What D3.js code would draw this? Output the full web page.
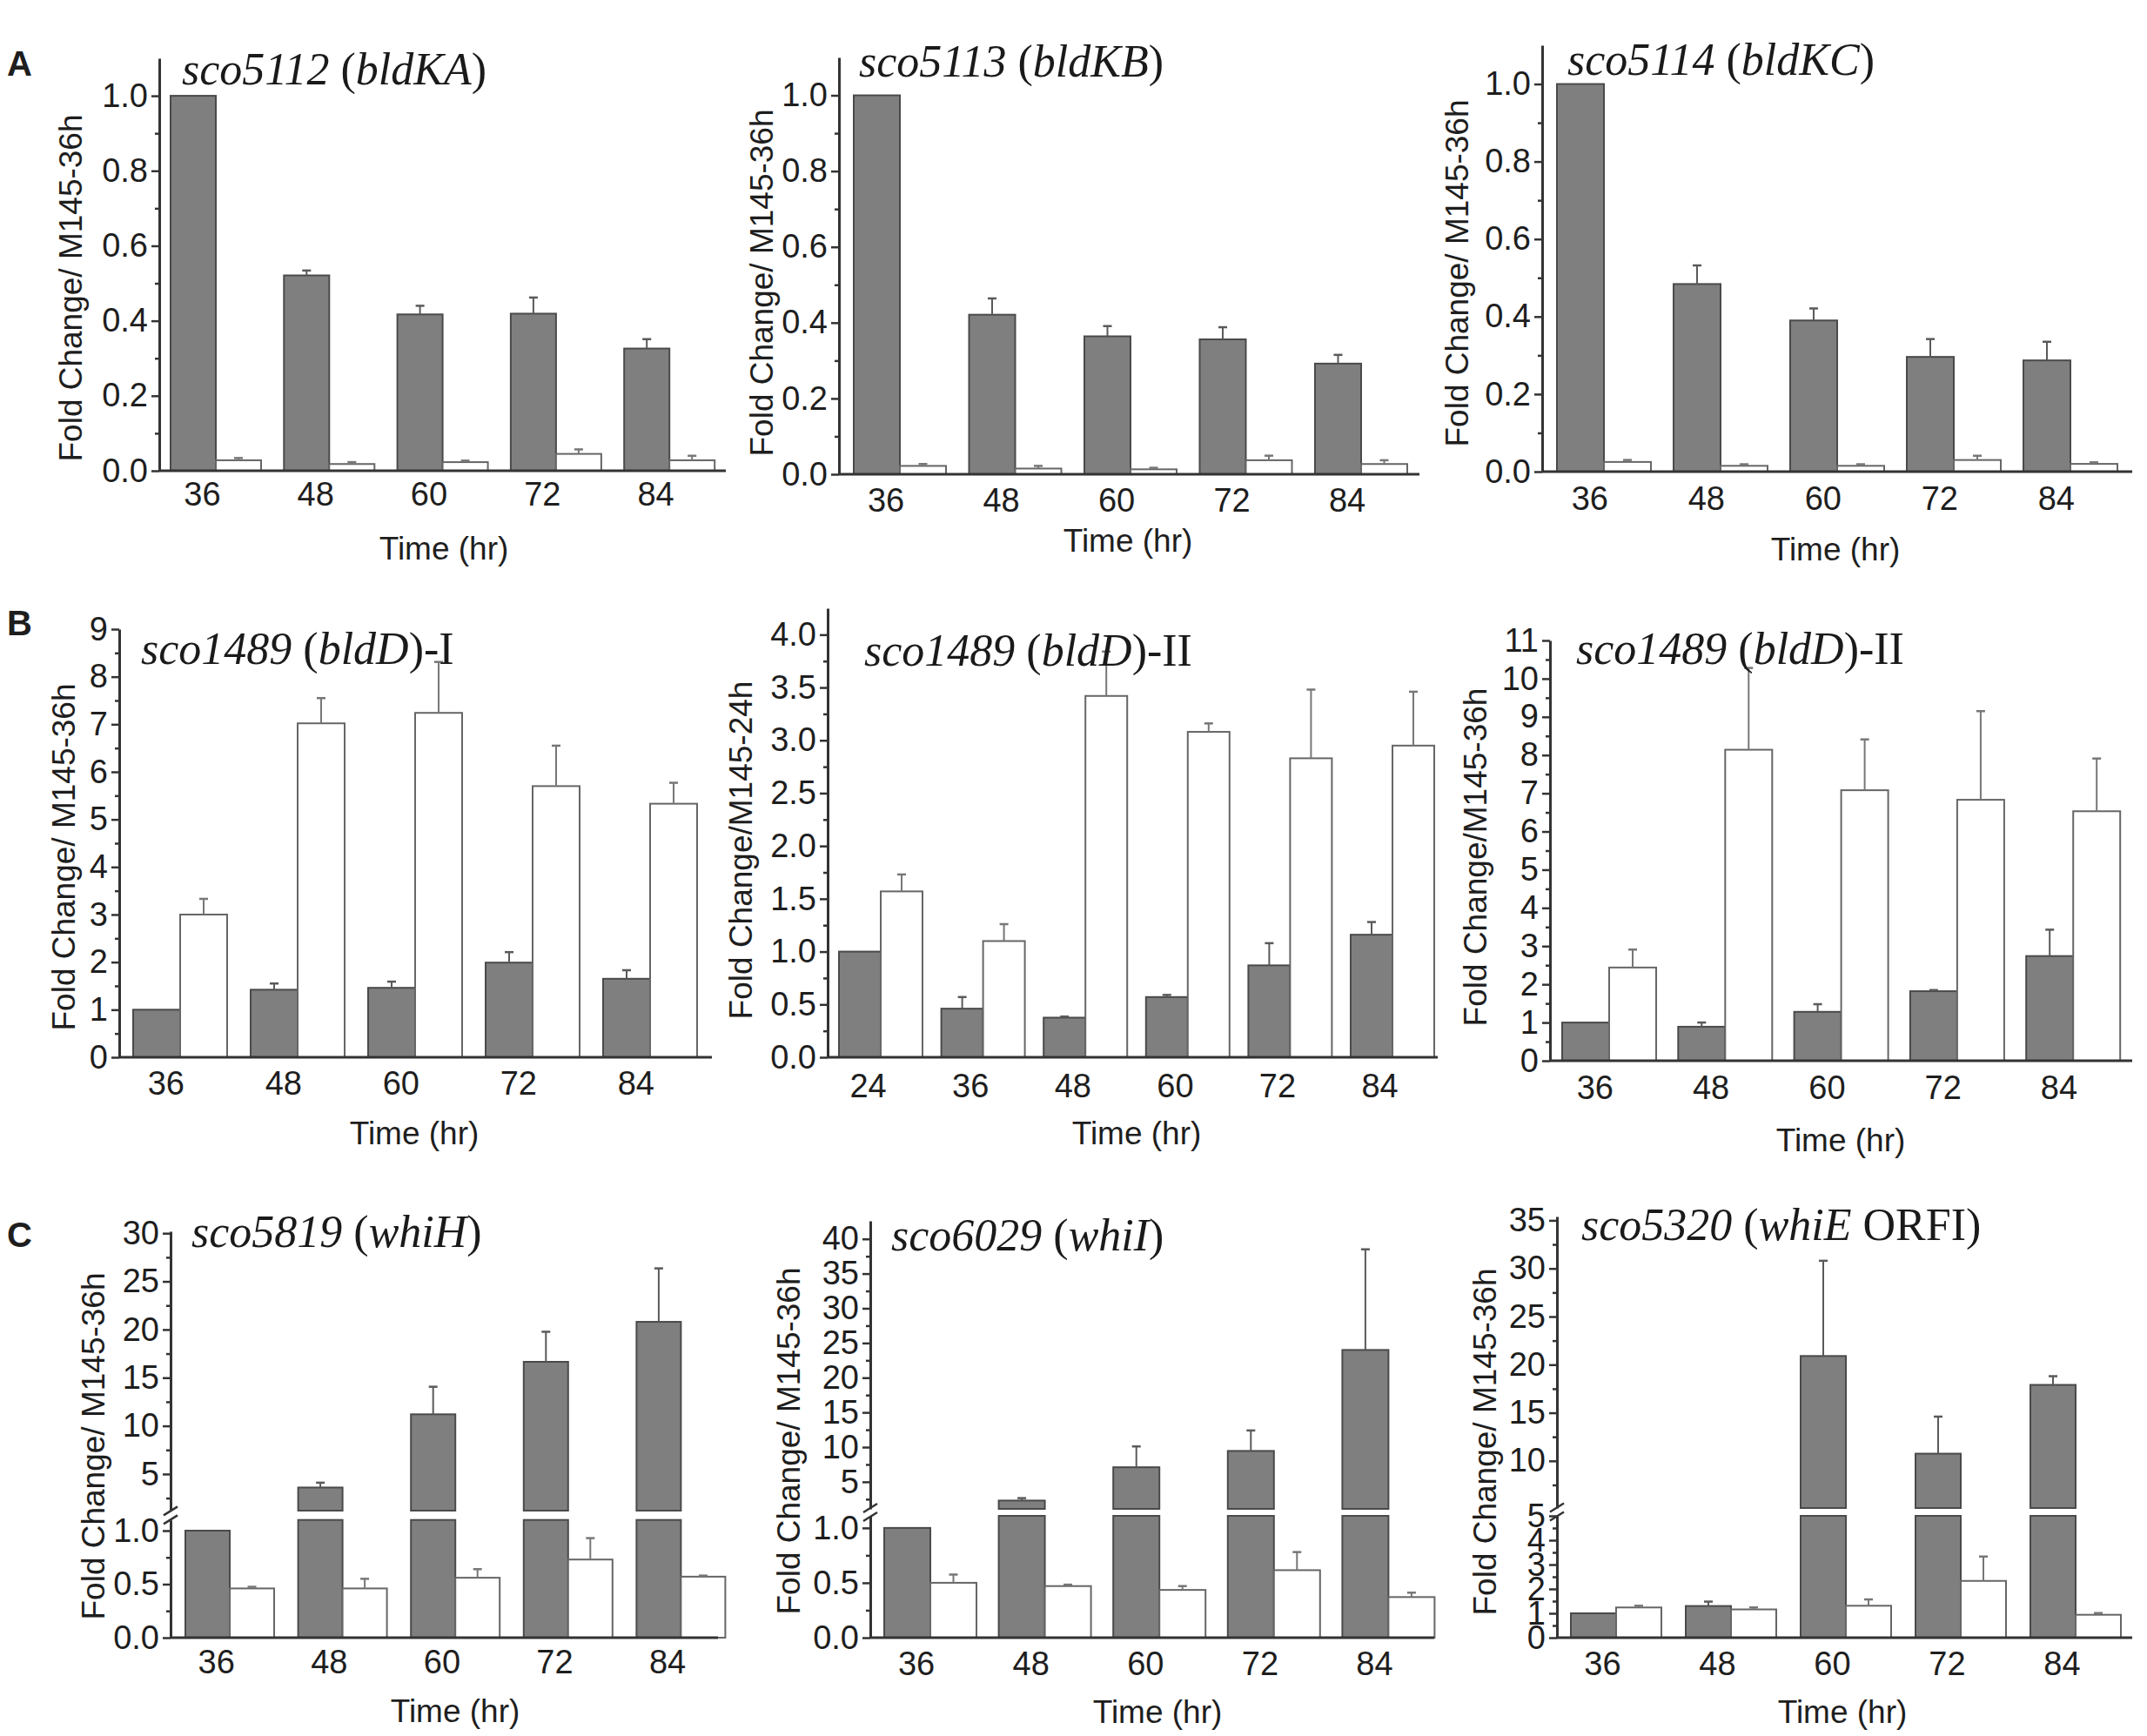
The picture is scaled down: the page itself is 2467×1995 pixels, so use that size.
<!DOCTYPE html>
<html>
<head>
<meta charset="utf-8">
<script src="https://d3js.org/d3.v7.min.js"></script>
<style>
  body { margin: 0; background: #fff; }
  text { font-family: "Liberation Sans", Arial, sans-serif; fill: #1e1e1e; }
  .title { font-family: "Liberation Serif", "Times New Roman", serif; fill: #1a1a1a; }
</style>
</head>
<body>
<script>
// categories (hours)
var times = [36, 48, 60, 72, 84];
var times24 = [24, 36, 48, 60, 72, 84];

// A  sco5112 (bldKA)
var sco5112Grey = [1.0, 0.521, 0.417, 0.419, 0.326];
var sco5112GreyErr = [0, 0.013, 0.023, 0.043, 0.025];
var sco5112White = [0.028, 0.018, 0.023, 0.045, 0.028];
var sco5112WhiteErr = [0.006, 0.005, 0.004, 0.012, 0.012];
// A  sco5113 (bldKB)
var sco5113Grey = [1.0, 0.421, 0.364, 0.356, 0.292];
var sco5113GreyErr = [0, 0.043, 0.027, 0.032, 0.023];
var sco5113White = [0.022, 0.015, 0.013, 0.037, 0.027];
var sco5113WhiteErr = [0.005, 0.007, 0.004, 0.012, 0.01];
// A  sco5114 (bldKC)
var sco5114Grey = [1.0, 0.484, 0.39, 0.296, 0.287];
var sco5114GreyErr = [0, 0.048, 0.031, 0.046, 0.048];
var sco5114White = [0.025, 0.015, 0.015, 0.03, 0.02];
var sco5114WhiteErr = [0.005, 0.004, 0.004, 0.011, 0.004];

// B  sco1489 (bldD)-I
var bldD1Grey = [1.0, 1.42, 1.46, 1.99, 1.65];
var bldD1GreyErr = [0, 0.13, 0.13, 0.22, 0.18];
var bldD1White = [3.0, 7.02, 7.24, 5.7, 5.33];
var bldD1WhiteErr = [0.33, 0.53, 1.07, 0.85, 0.44];
// B  sco1489 (bldD)-II, 24h reference
var bldD2Grey = [1.0, 0.46, 0.375, 0.57, 0.87, 1.16];
var bldD2GreyErr = [0, 0.11, 0.01, 0.02, 0.21, 0.12];
var bldD2White = [1.57, 1.1, 3.42, 3.08, 2.83, 2.95];
var bldD2WhiteErr = [0.16, 0.16, 0.42, 0.08, 0.65, 0.51];
// B  sco1489 (bldD)-II, 36h reference
var bldD3Grey = [1.0, 0.89, 1.28, 1.82, 2.74];
var bldD3GreyErr = [0, 0.11, 0.2, 0.03, 0.69];
var bldD3White = [2.44, 8.14, 7.08, 6.83, 6.53];
var bldD3WhiteErr = [0.47, 2.14, 1.33, 2.32, 1.38];

// C  sco5819 (whiH)
var whiHGrey = [1.0, 3.6, 11.2, 16.65, 20.8];
var whiHGreyErr = [0, 0.5, 2.86, 3.12, 5.55];
var whiHWhite = [0.46, 0.46, 0.56, 0.73, 0.57];
var whiHWhiteErr = [0.015, 0.09, 0.08, 0.2, 0.01];
// C  sco6029 (whiI)
var whiIGrey = [1.0, 2.3, 7.1, 9.45, 24.0];
var whiIGreyErr = [0, 0.35, 3.0, 2.95, 14.5];
var whiIWhite = [0.5, 0.47, 0.435, 0.615, 0.37];
var whiIWhiteErr = [0.075, 0.013, 0.035, 0.165, 0.04];
// C  sco5320 (whiE ORFI)
var whiEGrey = [1.0, 1.3, 20.9, 10.75, 17.9];
var whiEGreyErr = [0, 0.18, 9.9, 3.85, 0.9];
var whiEWhite = [1.24, 1.16, 1.31, 2.33, 0.94];
var whiEWhiteErr = [0.07, 0.08, 0.26, 1.0, 0.07];

// y tick values
var ticksA = [0, 0.2, 0.4, 0.6, 0.8, 1.0];
var minorA = [0.1, 0.3, 0.5, 0.7, 0.9];
var ticksB1 = [0, 1, 2, 3, 4, 5, 6, 7, 8, 9];
var ticksB2 = [0, 0.5, 1.0, 1.5, 2.0, 2.5, 3.0, 3.5, 4.0];
var ticksB3 = [0, 1, 2, 3, 4, 5, 6, 7, 8, 9, 10, 11];
var ticksLow = [0, 0.5, 1.0];
var ticksC1Up = [5, 10, 15, 20, 25, 30];
var ticksC2Up = [5, 10, 15, 20, 25, 30, 35, 40];
var ticksC3Low = [0, 1, 2, 3, 4, 5];
var ticksC3Up = [10, 15, 20, 25, 30, 35];

var panels = [
  {gene: 'sco5112', paren: ['bldKA', ''], tail: '', ylab: 'Fold Change/ M145-36h', cats: times,
   grey: sco5112Grey, greyErr: sco5112GreyErr, white: sco5112White, whiteErr: sco5112WhiteErr,
   ticks: ticksA, minor: minorA, fmt: '.1f', top: 1.1,
   L: {ax: 183, y0: 541, yTop: 67, start: 196, period: 130.3, w: 52, end: 834, tx: 209, ty: 79, lx: 81, ly: 331, ky: 568, hx: 510, hy: 630}},
  {gene: 'sco5113', paren: ['bldKB', ''], tail: '', ylab: 'Fold Change/ M145-36h', cats: times,
   grey: sco5113Grey, greyErr: sco5113GreyErr, white: sco5113White, whiteErr: sco5113WhiteErr,
   ticks: ticksA, minor: minorA, fmt: '.1f', top: 1.1,
   L: {ax: 964, y0: 545, yTop: 66, start: 981, period: 132.5, w: 53, end: 1631, tx: 987, ty: 70, lx: 875, ly: 325, ky: 575, hx: 1296, hy: 621}},
  {gene: 'sco5114', paren: ['bldKC', ''], tail: '', ylab: 'Fold Change/ M145-36h', cats: times,
   grey: sco5114Grey, greyErr: sco5114GreyErr, white: sco5114White, whiteErr: sco5114WhiteErr,
   ticks: ticksA, minor: minorA, fmt: '.1f', top: 1.1,
   L: {ax: 1772, y0: 542, yTop: 52, start: 1789, period: 134, w: 54, end: 2450, tx: 1801, ty: 68, lx: 1674, ly: 314, ky: 573, hx: 2109, hy: 631}},
  {gene: 'sco1489', paren: ['bldD', ''], tail: '-I', ylab: 'Fold Change/ M145-36h', cats: times,
   grey: bldD1Grey, greyErr: bldD1GreyErr, white: bldD1White, whiteErr: bldD1WhiteErr,
   ticks: ticksB1, minor: d3.range(0.5, 9, 1), fmt: 'd', top: 9,
   L: {ax: 137, y0: 1215, yTop: 723, start: 153, period: 135, w: 54, end: 818, tx: 162, ty: 745, lx: 73, ly: 985, ky: 1245, hx: 476, hy: 1302}},
  {gene: 'sco1489', paren: ['bldD', ''], tail: '-II', ylab: 'Fold Change/M145-24h', cats: times24,
   grey: bldD2Grey, greyErr: bldD2GreyErr, white: bldD2White, whiteErr: bldD2WhiteErr,
   ticks: ticksB2, minor: d3.range(0.25, 4.25, 0.5), fmt: '.1f', top: 4.25,
   L: {ax: 951, y0: 1215, yTop: 699, start: 964, period: 117.6, w: 48, end: 1652, tx: 993, ty: 747, lx: 851, ly: 977, ky: 1248, hx: 1306, hy: 1302}},
  {gene: 'sco1489', paren: ['bldD', ''], tail: '-II', ylab: 'Fold Change/M145-36h', cats: times,
   grey: bldD3Grey, greyErr: bldD3GreyErr, white: bldD3White, whiteErr: bldD3WhiteErr,
   ticks: ticksB3, minor: d3.range(0.5, 11, 1), fmt: 'd', top: 11,
   L: {ax: 1781, y0: 1219, yTop: 736, start: 1795, period: 133.3, w: 54, end: 2450, tx: 1811, ty: 745, lx: 1695, ly: 985, ky: 1250, hx: 2115, hy: 1310}},
  {gene: 'sco5819', paren: ['whiH', ''], tail: '', ylab: 'Fold Change/ M145-36h', cats: times,
   grey: whiHGrey, greyErr: whiHGreyErr, white: whiHWhite, whiteErr: whiHWhiteErr,
   brk: {low: [0, 1.1], up: [1.2, 30.2], lowTicks: ticksLow, lowMinor: [0.25, 0.75], lowFmt: '.1f',
         upTicks: ticksC1Up, upMinor: d3.range(2.5, 30, 5)},
   L: {ax: 196, y0: 1882, yLow: 1746.7, yUp0: 1736, yTop: 1415, start: 213, period: 129.6, w: 51, end: 825, tx: 220, ty: 1415, lx: 107, ly: 1662, ky: 1910, hx: 523, hy: 1966}},
  {gene: 'sco6029', paren: ['whiI', ''], tail: '', ylab: 'Fold Change/ M145-36h', cats: times,
   grey: whiIGrey, greyErr: whiIGreyErr, white: whiIWhite, whiteErr: whiIWhiteErr,
   brk: {low: [0, 1.11], up: [1.1, 42.6], lowTicks: ticksLow, lowMinor: [0.25, 0.75], lowFmt: '.1f',
         upTicks: ticksC2Up, upMinor: d3.range(2.5, 42.5, 5)},
   L: {ax: 1000, y0: 1882, yLow: 1742, yUp0: 1734, yTop: 1403, start: 1016, period: 131.6, w: 53, end: 1648, tx: 1024, ty: 1419, lx: 906, ly: 1656, ky: 1912, hx: 1330, hy: 1967}},
  {gene: 'sco5320', paren: ['whiE', ' ORFI'], tail: '', ylab: 'Fold Change/ M145-36h', cats: times,
   grey: whiEGrey, greyErr: whiEGreyErr, white: whiEWhite, whiteErr: whiEWhiteErr,
   brk: {low: [0, 5], up: [5.1, 35.4], lowTicks: ticksC3Low, lowMinor: [0.5, 1.5, 2.5, 3.5, 4.5], lowFmt: 'd',
         upTicks: ticksC3Up, upMinor: d3.range(7.5, 35, 5)},
   L: {ax: 1789, y0: 1882, yLow: 1742, yUp0: 1733, yTop: 1398, start: 1805, period: 132, w: 52, end: 2450, tx: 1817, ty: 1407, lx: 1706, ly: 1657, ky: 1912, hx: 2117, hy: 1967}}
];

var letters = [{t: 'A', y: 73}, {t: 'B', y: 716}, {t: 'C', y: 1419}];

var svg = d3.select('body').append('svg')
  .attr('width', 2467).attr('height', 1995);
svg.append('rect').attr('width', 2467).attr('height', 1995).attr('fill', '#fff');

var axisColor = '#333';
var greyFill = '#7f7f7f';
var tickFont = 38;
var labelFont = 37;

function styleAxis(g) {
  g.select('.domain').attr('stroke', axisColor).attr('stroke-width', 3);
  g.selectAll('.tick line').attr('stroke', axisColor).attr('stroke-width', 2.5);
  g.selectAll('.tick text').attr('font-size', tickFont).attr('fill', '#1e1e1e');
}

function yAxis(g, scale, ticks, minor, fmt) {
  var major = g.append('g')
    .call(d3.axisLeft(scale).tickValues(ticks).tickSize(9).tickSizeOuter(0).tickPadding(4)
      .tickFormat(d3.format(fmt)));
  styleAxis(major);
  var mg = g.append('g')
    .call(d3.axisLeft(scale).tickValues(minor).tickSize(5).tickSizeOuter(0).tickFormat(''));
  mg.select('.domain').remove();
  mg.selectAll('.tick line').attr('stroke', axisColor).attr('stroke-width', 2.5);
}

function drawPanel(p) {
  var L = p.L;
  var g = svg.append('g');
  var n = p.cats.length;

  var x = d3.scaleBand().domain(p.cats)
    .range([L.start, L.start + (n - 1) * L.period + 2 * L.w])
    .paddingInner(1 - 2 * L.w / L.period).paddingOuter(0);
  var xs = d3.scaleBand().domain(['grey', 'white']).range([0, x.bandwidth()]);

  var lo, up;
  if (p.brk) {
    lo = d3.scaleLinear().domain(p.brk.low).range([L.y0, L.yLow]);
    up = d3.scaleLinear().domain(p.brk.up).range([L.yUp0, L.yTop]);
  } else {
    lo = d3.scaleLinear().domain([0, p.top]).range([L.y0, L.yTop]);
  }

  var series = [
    {key: 'grey', vals: p.grey, errs: p.greyErr, fill: greyFill, stroke: '#4a4a4a', errColor: '#5a5a5a'},
    {key: 'white', vals: p.white, errs: p.whiteErr, fill: '#fff', stroke: '#666', errColor: '#777'}
  ];

  series.forEach(function(s) {
    var data = p.cats.map(function(c, i) { return {c: c, v: s.vals[i], e: s.errs[i]}; });
    var bx = function(d) { return x(d.c) + xs(s.key); };
    var bw = xs.bandwidth();
    var capLow = function(v) { return p.brk ? Math.min(v, p.brk.low[1]) : v; };

    // lower part of every bar
    g.selectAll(null).data(data).enter().append('rect')
      .attr('x', bx)
      .attr('y', function(d) { return lo(capLow(d.v)); })
      .attr('width', bw)
      .attr('height', function(d) { return L.y0 - lo(capLow(d.v)); })
      .attr('fill', s.fill).attr('stroke', s.stroke).attr('stroke-width', 2);

    // upper part above the axis break
    if (p.brk) {
      var tall = data.filter(function(d) { return d.v > p.brk.low[1]; });
      g.selectAll(null).data(tall).enter().append('rect')
        .attr('x', bx)
        .attr('y', function(d) { return up(d.v); })
        .attr('width', bw)
        .attr('height', function(d) { return up(p.brk.up[0]) - up(d.v); })
        .attr('fill', s.fill).attr('stroke', s.stroke).attr('stroke-width', 2);
    }

    // error bars (upper only)
    var ys = function(v) { return (p.brk && v > p.brk.low[1]) ? up(v) : lo(v); };
    var withErr = data.filter(function(d) { return d.e > 0; });
    g.selectAll(null).data(withErr).enter().append('line')
      .attr('x1', function(d) { return bx(d) + bw / 2; })
      .attr('x2', function(d) { return bx(d) + bw / 2; })
      .attr('y1', function(d) { return ys(d.v); })
      .attr('y2', function(d) { return ys(d.v + d.e); })
      .attr('stroke', s.errColor).attr('stroke-width', 2);
    g.selectAll(null).data(withErr).enter().append('line')
      .attr('x1', function(d) { return bx(d) + bw / 2 - 5; })
      .attr('x2', function(d) { return bx(d) + bw / 2 + 5; })
      .attr('y1', function(d) { return ys(d.v + d.e); })
      .attr('y2', function(d) { return ys(d.v + d.e); })
      .attr('stroke', s.errColor).attr('stroke-width', 2.5);
  });

  // y axis
  var ya = g.append('g').attr('transform', 'translate(' + L.ax + ',0)');
  if (p.brk) {
    yAxis(ya, lo, p.brk.lowTicks, p.brk.lowMinor, p.brk.lowFmt);
    yAxis(ya, up, p.brk.upTicks, p.brk.upMinor, 'd');
    // break marks
    var mid = (L.yLow + L.yUp0) / 2;
    [-5, 5].forEach(function(off) {
      ya.append('line')
        .attr('x1', -8).attr('x2', 8)
        .attr('y1', mid + off + 5).attr('y2', mid + off - 5)
        .attr('stroke', axisColor).attr('stroke-width', 2.5);
    });
  } else {
    yAxis(ya, lo, p.ticks, p.minor, p.fmt);
  }

  // x baseline
  g.append('line')
    .attr('x1', L.ax).attr('x2', L.end)
    .attr('y1', L.y0).attr('y2', L.y0)
    .attr('stroke', axisColor).attr('stroke-width', 3);

  // category labels
  g.selectAll(null).data(p.cats).enter().append('text')
    .attr('x', function(c) { return x(c) + 0.7 * L.w; })
    .attr('y', L.ky).attr('dy', '0.35em')
    .attr('text-anchor', 'middle').attr('font-size', tickFont)
    .text(function(c) { return c; });

  // axis titles
  g.append('text')
    .attr('x', L.hx).attr('y', L.hy).attr('dy', '0.35em')
    .attr('text-anchor', 'middle').attr('font-size', labelFont)
    .text('Time (hr)');
  g.append('text')
    .attr('transform', 'translate(' + L.lx + ',' + L.ly + ') rotate(-90)')
    .attr('dy', '0.35em')
    .attr('text-anchor', 'middle').attr('font-size', labelFont)
    .text(p.ylab);

  // gene title
  var t = g.append('text').attr('class', 'title')
    .attr('x', L.tx).attr('y', L.ty).attr('dy', '0.35em').attr('font-size', 52);
  t.append('tspan').attr('font-style', 'italic').text(p.gene);
  t.append('tspan').text(' (');
  t.append('tspan').attr('font-style', 'italic').text(p.paren[0]);
  t.append('tspan').text(p.paren[1] + ')' + p.tail);
}

panels.forEach(drawPanel);

svg.selectAll('.letter').data(letters).enter().append('text')
  .attr('class', 'letter')
  .attr('x', 8).attr('y', function(d) { return d.y; }).attr('dy', '0.35em')
  .attr('font-size', 40).attr('font-weight', 'bold').attr('fill', '#111')
  .text(function(d) { return d.t; });
</script>
</body>
</html>
